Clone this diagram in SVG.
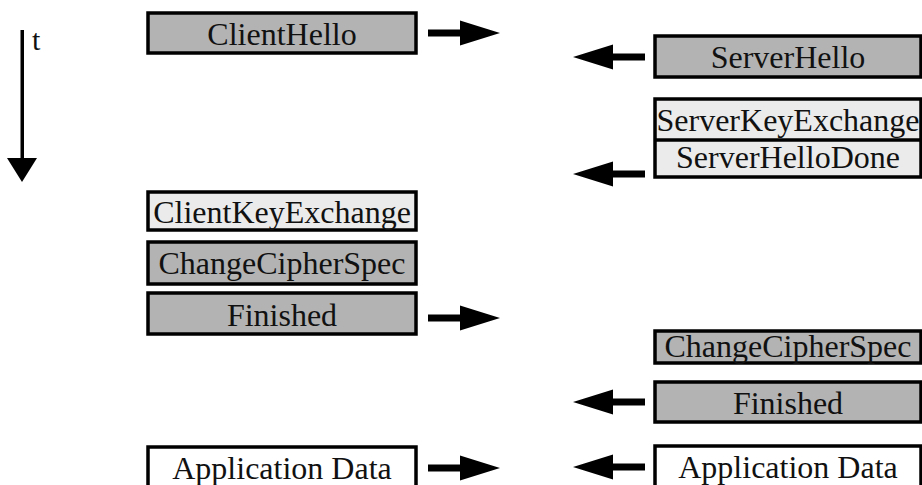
<svg xmlns="http://www.w3.org/2000/svg" width="922" height="485" viewBox="0 0 922 485">
  <style>
    .box { stroke: #000; stroke-width: 3.5; }
    .dark { fill: #b3b3b3; }
    .light { fill: #ebebeb; }
    .plain { fill: #fff; }
    .lbl { font-family: "Liberation Serif", "Times New Roman", serif; font-size: 32px; fill: #111; text-anchor: middle; }
    .arrow { fill: #000; }
  </style>
  <defs>
    <!-- thick block arrows, drawn at origin; tip at (0,0) -->
    <path id="arrowRight" class="arrow" d="M-72,-3.5 H-40 V-12.5 L0,0 L-40,12.5 V3.5 H-72 Z"/>
    <path id="arrowLeft" class="arrow" d="M72,-3.5 H40 V-12.5 L0,0 L40,12.5 V3.5 H72 Z"/>
  </defs>
  <rect width="922" height="485" fill="#fff"/>

  <!-- time axis -->
  <g id="time-axis">
    <rect x="20.5" y="30" width="3.5" height="130" fill="#000"/>
    <polygon points="7,158 37,158 22,182" fill="#000"/>
    <text x="32" y="50" font-family="Liberation Serif, serif" font-size="30" fill="#111">t</text>
  </g>

  <!-- client side -->
  <g id="client-hello">
    <rect class="box dark" x="148" y="13" width="268" height="40"/>
    <text class="lbl" x="282" y="45">ClientHello</text>
  </g>
  <g id="client-key-exchange">
    <rect class="box light" x="148" y="192" width="268" height="38"/>
    <text class="lbl" x="282" y="223">ClientKeyExchange</text>
  </g>
  <g id="client-change-cipher-spec">
    <rect class="box dark" x="148" y="242" width="268" height="42"/>
    <text class="lbl" x="282" y="274">ChangeCipherSpec</text>
  </g>
  <g id="client-finished">
    <rect class="box dark" x="148" y="293" width="268" height="41"/>
    <text class="lbl" x="282" y="326">Finished</text>
  </g>
  <g id="client-app-data">
    <rect class="box plain" x="148" y="447" width="268" height="45"/>
    <text class="lbl" x="282" y="479">Application Data</text>
  </g>

  <!-- server side -->
  <g id="server-hello">
    <rect class="box dark" x="655" y="36" width="266" height="41"/>
    <text class="lbl" x="788" y="68">ServerHello</text>
  </g>
  <g id="server-key-exchange-done">
    <rect class="box light" x="655" y="99" width="266" height="78"/>
    <line x1="655" y1="140" x2="921" y2="140" stroke="#000" stroke-width="3.5"/>
    <text class="lbl" x="788" y="131">ServerKeyExchange</text>
    <text class="lbl" x="788" y="168">ServerHelloDone</text>
  </g>
  <g id="server-change-cipher-spec">
    <rect class="box dark" x="655" y="331" width="266" height="32"/>
    <text class="lbl" x="788" y="357">ChangeCipherSpec</text>
  </g>
  <g id="server-finished">
    <rect class="box dark" x="655" y="382" width="266" height="40"/>
    <text class="lbl" x="788" y="414">Finished</text>
  </g>
  <g id="server-app-data">
    <rect class="box plain" x="655" y="446" width="266" height="45"/>
    <text class="lbl" x="788" y="478">Application Data</text>
  </g>

  <!-- message arrows -->
  <g id="connectors">
    <use href="#arrowRight" x="500" y="33"/>
    <use href="#arrowRight" x="500" y="318"/>
    <use href="#arrowRight" x="500" y="468"/>
    <use href="#arrowLeft" x="573" y="57"/>
    <use href="#arrowLeft" x="573" y="174"/>
    <use href="#arrowLeft" x="573" y="402"/>
    <use href="#arrowLeft" x="573" y="467"/>
  </g>
</svg>
